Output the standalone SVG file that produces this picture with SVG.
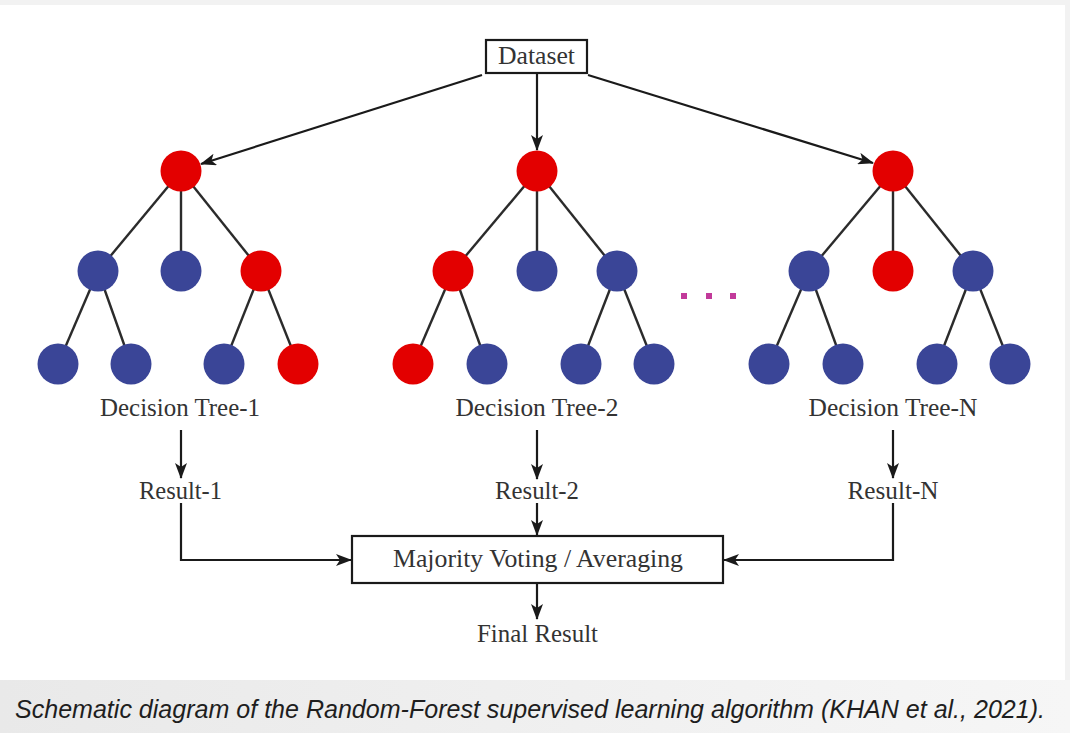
<svg xmlns="http://www.w3.org/2000/svg" width="1070" height="733" viewBox="0 0 1070 733">
<defs>
<linearGradient id="capbg" x1="0" y1="0" x2="1" y2="0">
<stop offset="0" stop-color="#e9e9e9"/>
<stop offset="1" stop-color="#f6f6f6"/>
</linearGradient>
<marker id="ah" viewBox="0 0 16 12" refX="15" refY="6" markerWidth="16" markerHeight="12" markerUnits="userSpaceOnUse" orient="auto">
<path d="M0,0 L16,6 L0,12 L4,6 z" fill="#1a1a1a"/>
</marker>
</defs>
<style>
.lbl{font-family:"Liberation Serif","Times New Roman",serif;font-size:25px;fill:#333333;text-anchor:middle}
.edge{stroke:#2b2b2b;stroke-width:2.4;fill:none}
.conn{stroke:#1a1a1a;stroke-width:2.2;fill:none;marker-end:url(#ah)}
.r{fill:#e30000}
.b{fill:#3a4597}
.box{fill:#ffffff;stroke:#1a1a1a;stroke-width:2.2}
.dot{fill:#c23a9a}
</style>
<rect x="0" y="0" width="1070" height="733" fill="#f2f2f2"/>
<rect x="0" y="680" width="1070" height="53" fill="url(#capbg)"/>
<rect x="0" y="5" width="1065" height="675" fill="#ffffff"/>

<g id="connectors">
<line class="conn" x1="482" y1="75" x2="201" y2="164"/>
<line class="conn" x1="537" y1="74" x2="537" y2="150"/>
<line class="conn" x1="588" y1="75" x2="873" y2="163"/>
<line class="conn" x1="181" y1="430" x2="181" y2="478"/>
<line class="conn" x1="537" y1="430" x2="537" y2="479"/>
<line class="conn" x1="893" y1="430" x2="893" y2="478"/>
<line class="conn" x1="537" y1="503" x2="537" y2="535"/>
<polyline class="conn" points="181,503 181,560 351,560"/>
<polyline class="conn" points="893,503 893,560 724,560"/>
<line class="conn" x1="537" y1="583" x2="537" y2="619"/>
</g>

<g id="tree-1">
<g class="edge">
<line x1="181" y1="171" x2="98" y2="271"/>
<line x1="181" y1="171" x2="181" y2="271"/>
<line x1="181" y1="171" x2="261" y2="271"/>
<line x1="98" y1="271" x2="58" y2="364"/>
<line x1="98" y1="271" x2="131" y2="364"/>
<line x1="261" y1="271" x2="224" y2="364"/>
<line x1="261" y1="271" x2="298" y2="364"/>
</g>
<circle class="r" cx="181" cy="171" r="20.5"/>
<circle class="b" cx="98" cy="271" r="20.5"/>
<circle class="b" cx="181" cy="271" r="20.5"/>
<circle class="r" cx="261" cy="271" r="20.5"/>
<circle class="b" cx="58" cy="364" r="20.5"/>
<circle class="b" cx="131" cy="364" r="20.5"/>
<circle class="b" cx="224" cy="364" r="20.5"/>
<circle class="r" cx="298" cy="364" r="20.5"/>
<text class="lbl" x="180" y="416" textLength="160" lengthAdjust="spacingAndGlyphs">Decision Tree-1</text>
</g>

<g id="tree-2">
<g class="edge">
<line x1="537" y1="171" x2="453" y2="271"/>
<line x1="537" y1="171" x2="537" y2="271"/>
<line x1="537" y1="171" x2="617" y2="271"/>
<line x1="453" y1="271" x2="413" y2="364"/>
<line x1="453" y1="271" x2="487" y2="364"/>
<line x1="617" y1="271" x2="581" y2="364"/>
<line x1="617" y1="271" x2="654" y2="364"/>
</g>
<circle class="r" cx="537" cy="171" r="20.5"/>
<circle class="r" cx="453" cy="271" r="20.5"/>
<circle class="b" cx="537" cy="271" r="20.5"/>
<circle class="b" cx="617" cy="271" r="20.5"/>
<circle class="r" cx="413" cy="364" r="20.5"/>
<circle class="b" cx="487" cy="364" r="20.5"/>
<circle class="b" cx="581" cy="364" r="20.5"/>
<circle class="b" cx="654" cy="364" r="20.5"/>
<text class="lbl" x="537" y="416" textLength="163" lengthAdjust="spacingAndGlyphs">Decision Tree-2</text>
</g>

<g id="ellipsis">
<rect class="dot" x="681" y="293" width="6" height="6"/>
<rect class="dot" x="706" y="293" width="6" height="6"/>
<rect class="dot" x="730" y="293" width="6" height="6"/>
</g>

<g id="tree-n">
<g class="edge">
<line x1="893" y1="171" x2="809" y2="271"/>
<line x1="893" y1="171" x2="893" y2="271"/>
<line x1="893" y1="171" x2="973" y2="271"/>
<line x1="809" y1="271" x2="769" y2="364"/>
<line x1="809" y1="271" x2="843" y2="364"/>
<line x1="973" y1="271" x2="937" y2="364"/>
<line x1="973" y1="271" x2="1010" y2="364"/>
</g>
<circle class="r" cx="893" cy="171" r="20.5"/>
<circle class="b" cx="809" cy="271" r="20.5"/>
<circle class="r" cx="893" cy="271" r="20.5"/>
<circle class="b" cx="973" cy="271" r="20.5"/>
<circle class="b" cx="769" cy="364" r="20.5"/>
<circle class="b" cx="843" cy="364" r="20.5"/>
<circle class="b" cx="937" cy="364" r="20.5"/>
<circle class="b" cx="1010" cy="364" r="20.5"/>
<text class="lbl" x="893" y="416" textLength="169" lengthAdjust="spacingAndGlyphs">Decision Tree-N</text>
</g>

<g id="dataset">
<rect class="box" x="486" y="40" width="101" height="33"/>
<text class="lbl" x="536.5" y="64" textLength="77" lengthAdjust="spacingAndGlyphs">Dataset</text>
</g>

<g id="result-1">
<text class="lbl" x="180.5" y="499" textLength="83" lengthAdjust="spacingAndGlyphs">Result-1</text>
</g>
<g id="result-2">
<text class="lbl" x="537" y="499" textLength="84" lengthAdjust="spacingAndGlyphs">Result-2</text>
</g>
<g id="result-n">
<text class="lbl" x="893" y="499" textLength="91" lengthAdjust="spacingAndGlyphs">Result-N</text>
</g>

<g id="majority">
<rect class="box" x="352" y="536" width="371" height="47"/>
<text class="lbl" x="538" y="567" textLength="290" lengthAdjust="spacingAndGlyphs">Majority Voting / Averaging</text>
</g>

<g id="final-result">
<text class="lbl" x="537.5" y="642" textLength="121" lengthAdjust="spacingAndGlyphs">Final Result</text>
</g>

<text x="15" y="718" font-family="Liberation Sans, Arial, sans-serif" font-style="italic" font-size="25" fill="#1e1e1e" textLength="1030" lengthAdjust="spacingAndGlyphs">Schematic diagram of the Random-Forest supervised learning algorithm (KHAN et al., 2021).</text>
</svg>
